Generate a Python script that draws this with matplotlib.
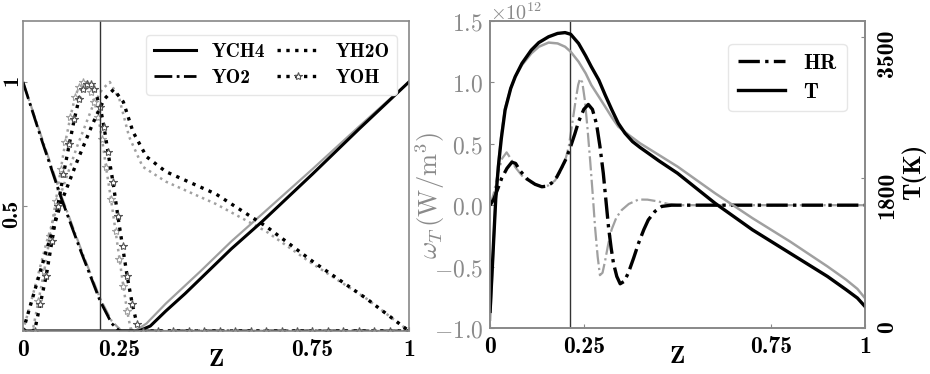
import numpy as np
import matplotlib
matplotlib.use("Agg")
import matplotlib.pyplot as plt
from matplotlib.transforms import ScaledTranslation

plt.rcParams['mathtext.fontset'] = 'cm'
BOLD = 'cmb10'

# ---------------- data: left panel (mass fractions, normalised) ----------------
z_ch4_k = [0, 0.30, 0.33, 0.37, 0.42, 0.46, 0.54, 0.62, 0.75, 0.87, 1.0]
y_ch4_k = [0, 0, 0.02, 0.08, 0.15, 0.21, 0.33, 0.44, 0.63, 0.81, 1.0]
z_ch4_g = [0, 0.29, 0.32, 0.37, 0.46, 0.54, 0.62, 0.75, 0.87, 1.0]
y_ch4_g = [0, 0, 0.03, 0.11, 0.24, 0.36, 0.47, 0.65, 0.82, 1.0]

z_o2_k = [0, 0.05, 0.1, 0.15, 0.2, 0.23, 0.25, 0.3, 0.4, 0.5, 0.6, 0.7, 0.8, 0.9, 1.0]
y_o2_k = [1.0, 0.76, 0.53, 0.32, 0.12, 0.03, 0, 0, 0, 0, 0, 0, 0, 0, 0]
z_o2_g = [0, 0.05, 0.1, 0.15, 0.2, 0.23, 0.255, 0.3, 0.4, 0.5, 0.6, 0.7, 0.8, 0.9, 1.0]
y_o2_g = [1.0, 0.77, 0.54, 0.33, 0.13, 0.04, 0, 0, 0, 0, 0, 0, 0, 0, 0]

z_h2o_k = [0, 0.03, 0.06, 0.1, 0.14, 0.18, 0.21, 0.235, 0.26, 0.285, 0.32, 0.37, 0.5, 0.63, 0.75, 0.89, 1.0]
y_h2o_k = [0, 0.16, 0.32, 0.52, 0.68, 0.83, 0.93, 0.97, 0.92, 0.80, 0.70, 0.64, 0.55, 0.42, 0.28, 0.13, 0.0]
z_h2o_g = [0, 0.03, 0.06, 0.1, 0.14, 0.18, 0.205, 0.225, 0.25, 0.275, 0.31, 0.37, 0.5, 0.63, 0.75, 0.89, 1.0]
y_h2o_g = [0, 0.17, 0.35, 0.56, 0.74, 0.90, 0.97, 1.0, 0.93, 0.78, 0.66, 0.60, 0.51, 0.40, 0.27, 0.13, 0.0]

z_oh_k = [0, 0.03, 0.045, 0.06, 0.075, 0.09, 0.105, 0.12, 0.133, 0.145, 0.155, 0.165, 0.175, 0.185, 0.2,
          0.21, 0.22, 0.233, 0.246, 0.258, 0.27, 0.283, 0.295, 0.31, 0.35, 0.39, 0.43, 0.47, 0.51, 0.55,
          0.59, 0.63, 0.67, 0.71, 0.75, 0.79, 0.83, 0.87, 0.91, 0.95, 1.0]
y_oh_k = [0, 0.0, 0.11, 0.22, 0.36, 0.50, 0.63, 0.75, 0.85, 0.93, 0.97, 0.99, 0.99, 0.97, 0.90,
          0.82, 0.72, 0.60, 0.46, 0.34, 0.22, 0.11, 0.03, 0, 0, 0, 0, 0, 0, 0,
          0, 0, 0, 0, 0, 0, 0, 0, 0, 0, 0]
z_oh_g = [0, 0.025, 0.04, 0.055, 0.07, 0.085, 0.098, 0.11, 0.123, 0.135, 0.145, 0.155, 0.165, 0.175,
          0.185, 0.195, 0.205, 0.215, 0.228, 0.24, 0.25, 0.26, 0.27, 0.28, 1.0]
y_oh_g = [0, 0, 0.12, 0.24, 0.38, 0.52, 0.65, 0.76, 0.86, 0.94, 0.98, 1.0, 0.99, 0.96,
          0.92, 0.86, 0.77, 0.66, 0.53, 0.40, 0.29, 0.18, 0.08, 0.0, 0]

# ---------------- data: right panel (heat release and temperature) ----------------
z_t_k = [0, 0.005, 0.01, 0.015, 0.022, 0.03, 0.04, 0.055, 0.067, 0.085, 0.11, 0.13, 0.156, 0.18, 0.2,
         0.215, 0.236, 0.255, 0.27, 0.29, 0.307, 0.325, 0.342, 0.36, 0.38, 0.40, 0.422, 0.45, 0.5, 0.55,
         0.6, 0.65, 0.7, 0.75, 0.8, 0.85, 0.9, 0.95, 0.98, 1.0]
t_k = [200, 650, 1100, 1550, 1940, 2280, 2620, 2880, 3020, 3180, 3340, 3430, 3500, 3540, 3550,
       3530, 3420, 3270, 3140, 2980, 2800, 2620, 2460, 2340, 2240, 2170, 2100, 2010, 1860, 1680,
       1500, 1340, 1180, 1040, 900, 760, 620, 460, 360, 260]
z_t_g = [0, 0.005, 0.01, 0.015, 0.022, 0.03, 0.04, 0.055, 0.067, 0.085, 0.11, 0.13, 0.156, 0.18, 0.2,
         0.215, 0.236, 0.255, 0.27, 0.29, 0.307, 0.325, 0.342, 0.37, 0.40, 0.45, 0.5, 0.55,
         0.6, 0.65, 0.7, 0.75, 0.8, 0.85, 0.9, 0.95, 0.98, 1.0]
t_g = [100, 600, 1100, 1560, 1980, 2320, 2640, 2880, 3020, 3160, 3300, 3380, 3430, 3420, 3380,
       3320, 3200, 3060, 2920, 2780, 2660, 2530, 2420, 2320, 2220, 2080, 1940, 1780,
       1620, 1470, 1320, 1180, 1040, 890, 740, 580, 470, 360]

hr_scale = 1e12
z_hr_k = [0, 0.01, 0.02, 0.031, 0.045, 0.058, 0.068, 0.08, 0.1, 0.12, 0.138, 0.152, 0.164, 0.178, 0.19,
          0.203, 0.214, 0.226, 0.236, 0.25, 0.262, 0.273, 0.284, 0.293, 0.302, 0.309, 0.316, 0.323,
          0.329, 0.338, 0.347, 0.358, 0.369, 0.383, 0.396, 0.41, 0.422, 0.44, 0.458, 0.484, 0.55,
          0.62, 0.69, 0.76, 0.83, 0.9, 0.97, 1.0]
hr_k = [0, 0.05, 0.13, 0.22, 0.30, 0.35, 0.34, 0.28, 0.21, 0.17, 0.15, 0.155, 0.18, 0.23, 0.30,
        0.38, 0.47, 0.58, 0.68, 0.78, 0.82, 0.78, 0.66, 0.48, 0.26, 0.04, -0.18, -0.35,
        -0.47, -0.58, -0.64, -0.62, -0.55, -0.43, -0.31, -0.20, -0.12, -0.05, -0.01, 0, 0,
        0, 0, 0, 0, 0, 0, 0]
z_hr_g = [0, 0.01, 0.02, 0.032, 0.044, 0.055, 0.067, 0.085, 0.1, 0.12, 0.138, 0.155, 0.173, 0.187,
          0.2, 0.21, 0.218, 0.228, 0.235, 0.24, 0.246, 0.253, 0.26, 0.267, 0.274, 0.28, 0.287, 0.293,
          0.3, 0.307, 0.315, 0.324, 0.337, 0.351, 0.37, 0.396, 0.42, 0.449, 0.475, 0.5, 1.0]
hr_g = [0, 0.10, 0.25, 0.38, 0.43, 0.38, 0.31, 0.24, 0.20, 0.17, 0.15, 0.16, 0.20, 0.27,
        0.36, 0.48, 0.64, 0.85, 0.98, 1.03, 1.0, 0.85, 0.62, 0.36, 0.08, -0.18, -0.42, -0.57,
        -0.55, -0.45, -0.32, -0.20, -0.10, -0.04, 0.01, 0.046, 0.045, 0.03, 0.01, 0, 0]

z_line_left = 0.2
z_line_right = 0.214

x_ticks = [0, 0.25, 0.75, 1]
x_ticklabels = ['0', '0.25', '0.75', '1']
y1_ticks = [0.5, 1]
y1_ticklabels = ['0.5', '1']
hr_ticks = [-1.0, -0.5, 0.0, 0.5, 1.0, 1.5]
hr_ticklabels = [r'$-1.0$', r'$-0.5$', r'$0.0$', r'$0.5$', r'$1.0$', r'$1.5$']
t_ticks = [0, 1800, 3500]
t_ticklabels = ['0', '1800', '3500']

# ---------------- figure ----------------
BLK = 'black'
GRY = '#a0a0a0'
SPN = '#888888'
LBL = '#8a8a8a'
TICK_FS = 17

fig = plt.figure(figsize=(9.3, 3.74), dpi=100)
ax1 = fig.add_axes([0.0247, 0.115, 0.415, 0.829])
ax2 = fig.add_axes([0.527, 0.123, 0.403, 0.821])
axT = ax2.twinx()

# left panel
star_kw = dict(marker='*', markersize=6, markerfacecolor='white')
ax1.plot(z_ch4_g, y_ch4_g, '-', color=GRY, lw=1.6)
ax1.plot(z_o2_g, y_o2_g, '-.', color=GRY, lw=1.6)
ax1.plot(z_h2o_g, y_h2o_g, ':', color=GRY, lw=1.8)
ax1.plot(z_oh_g, y_oh_g, ':', color=GRY, lw=1.8, markeredgecolor=GRY, markeredgewidth=0.8, **star_kw)

ax1.plot(z_ch4_k, y_ch4_k, '-', color=BLK, lw=2.2, label='YCH4')
ax1.plot(z_o2_k, y_o2_k, '-.', color=BLK, lw=2.0, label='YO2')
ax1.plot(z_h2o_k, y_h2o_k, ':', color=BLK, lw=2.4, label='YH2O')
ax1.plot(z_oh_k, y_oh_k, ':', color=BLK, lw=2.4, markeredgecolor='#555555', markeredgewidth=0.8,
         label='YOH', **star_kw)
ax1.axvline(z_line_left, color='#333333', lw=1.0)

ax1.set_xlim(0, 1)
ax1.set_ylim(0, 1.245)
ax1.tick_params(direction='in', length=3, color=SPN)
ax1.tick_params(axis='x', pad=6)
ax1.tick_params(axis='y', pad=1)
ax1.set_xticks(x_ticks)
ax1.set_xticklabels(x_ticklabels, fontsize=TICK_FS, family=BOLD)
ax1.set_yticks(y1_ticks)
ax1.set_yticklabels(y1_ticklabels, fontsize=16, rotation=90, va='top', family=BOLD)
ax1.set_xlabel('Z', fontsize=18, labelpad=-9, family=BOLD)
for s in ax1.spines.values():
    s.set_color(SPN)
    s.set_linewidth(1.2)
leg1 = ax1.legend(ncol=2, loc='upper right', prop={'family': BOLD, 'size': 14}, handlelength=2.2,
                  columnspacing=0.6, handletextpad=0.8, borderpad=0.4, labelspacing=0.4,
                  framealpha=1, bbox_to_anchor=(0.995, 0.985))
leg1.get_frame().set_edgecolor('#e6e6e6')

# right panel
ax2.plot(z_hr_g, np.array(hr_g) * hr_scale, '-.', color=GRY, lw=1.6)
axT.plot(z_t_g, t_g, '-', color=GRY, lw=1.8)
ln_hr, = ax2.plot(z_hr_k, np.array(hr_k) * hr_scale, '-.', color=BLK, lw=2.4, label='HR')
ln_t, = axT.plot(z_t_k, t_k, '-', color=BLK, lw=2.4, label='T')
ax2.axvline(z_line_right, color='#333333', lw=1.0)

ax2.set_xlim(0, 1)
ax2.set_ylim(-1.0 * hr_scale, 1.5 * hr_scale)
ax2.tick_params(direction='in', length=3, color=SPN)
ax2.tick_params(axis='x', pad=6)
ax2.tick_params(axis='y', pad=5)
ax2.set_xticks(x_ticks)
ax2.set_xticklabels(x_ticklabels, fontsize=TICK_FS, family=BOLD)
ax2.set_yticks([v * hr_scale for v in hr_ticks])
ax2.set_yticklabels(hr_ticklabels, fontsize=TICK_FS, color=LBL)
ax2.set_xlabel('Z', fontsize=18, labelpad=-9, family=BOLD)
ax2.set_ylabel(r'$\omega_T\,(\mathrm{W/m^3})$', fontsize=19, color=LBL)
ax2.yaxis.set_label_coords(-0.115, 0.43)
ax2.text(0.0, 0.99, r'$\times10^{12}$', transform=ax2.transAxes, fontsize=14.5, color=LBL,
         ha='left', va='bottom')

axT.set_ylim(0, 3690)
axT.tick_params(direction='in', length=3, color=SPN, pad=8)
axT.set_yticks(t_ticks)
axT.set_yticklabels(t_ticklabels, fontsize=TICK_FS, rotation=90, va='top', family=BOLD)
axT.set_ylabel('T(K)', fontsize=18, family=BOLD)
axT.yaxis.set_label_coords(1.097, 0.51)
for a in (ax2, axT):
    for s in a.spines.values():
        s.set_color(SPN)
        s.set_linewidth(1.2)

leg2 = ax2.legend(handles=[ln_hr, ln_t], loc='upper right', prop={'family': BOLD, 'size': 15.5},
                  handlelength=2.2, handletextpad=0.85, borderpad=0.45, labelspacing=0.45,
                  framealpha=1, bbox_to_anchor=(0.98, 0.96))
leg2.get_frame().set_edgecolor('#e6e6e6')

# rotated tick labels sit slightly above their ticks, as in the reference
shift_up = ScaledTranslation(0, 7 / 100, fig.dpi_scale_trans)
for lab in list(ax1.get_yticklabels()) + list(axT.get_yticklabels()):
    lab.set_transform(lab.get_transform() + shift_up)

fig.savefig('out.png', dpi=100)
